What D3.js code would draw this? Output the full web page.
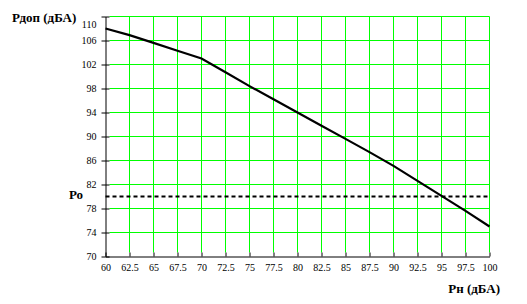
<!DOCTYPE html>
<html>
<head>
<meta charset="utf-8">
<script src="https://cdn.jsdelivr.net/npm/d3@7"></script>
<style>
  body { margin: 0; background: #fff; }
  svg { display: block; }
  .axis text { font-family: "Liberation Serif", serif; font-size: 10px; fill: #000; }
  .axis path, .axis line { stroke: #000; }
  .title { font-family: "Liberation Serif", serif; font-size: 13px; font-weight: bold; fill: #000; }
</style>
</head>
<body>
<script>
// Data
var xValues = [60, 62.5, 65, 67.5, 70, 72.5, 75, 77.5, 80, 82.5, 85, 87.5, 90, 92.5, 95, 97.5, 100];
var pDop    = [108, 106.9, 105.6, 104.3, 103, 100.7, 98.4, 96.2, 94, 91.8, 89.6, 87.4, 85.1, 82.6, 80.1, 77.6, 75];
var pO = 80;
var xTicks = d3.range(60, 100.1, 2.5);
var yTicks = d3.range(70, 110.1, 4);

//Width and height
var w = 527;
var h = 304;

var xScale = d3.scaleLinear().domain([60, 100]).range([105.5, 489.5]);
var yScale = d3.scaleLinear().domain([70, 110]).range([256.5, 16.5]);

var svg = d3.select("body")
    .append("svg")
    .attr("width", w)
    .attr("height", h);

// Grid
svg.append("g").selectAll("line")
    .data(xTicks.slice(1))
    .enter()
    .append("line")
    .attr("x1", function(d) { return xScale(d); })
    .attr("x2", function(d) { return xScale(d); })
    .attr("y1", yScale(110))
    .attr("y2", yScale(70) - 4)
    .attr("stroke", "#00ff00")
    .attr("stroke-width", 1);

svg.append("g").selectAll("line")
    .data(yTicks.slice(1))
    .enter()
    .append("line")
    .attr("x1", xScale(60) + 4)
    .attr("x2", xScale(100))
    .attr("y1", function(d) { return yScale(d); })
    .attr("y2", function(d) { return yScale(d); })
    .attr("stroke", "#00ff00")
    .attr("stroke-width", 1);

// Axes
var xAxis = d3.axisBottom(xScale)
    .tickValues(xTicks)
    .tickSize(-4)
    .tickPadding(7)
    .tickSizeOuter(0)
    .tickFormat(function(d) { return String(d); });

var yAxis = d3.axisLeft(yScale)
    .tickValues(yTicks)
    .tickSize(4)
    .tickPadding(5)
    .tickSizeOuter(0)
    .tickFormat(function(d) { return String(d); });

svg.append("g").attr("class", "axis")
    .attr("transform", "translate(0," + yScale(70) + ")")
    .call(xAxis);

var gy = svg.append("g").attr("class", "axis")
    .attr("transform", "translate(" + xScale(60) + ",0)")
    .call(yAxis);
gy.selectAll(".tick line").attr("x1", 4).attr("x2", -4);
gy.selectAll(".tick").filter(function(d) { return d === 110; })
    .select("text").attr("dy", "1.05em");

svg.selectAll(".axis .domain").attr("stroke-width", 1);

// Po dashed line
svg.append("line")
    .attr("x1", xScale(60))
    .attr("x2", xScale(100))
    .attr("y1", yScale(pO))
    .attr("y2", yScale(pO))
    .attr("stroke", "#000")
    .attr("stroke-width", 2)
    .attr("stroke-dasharray", "4,3");

// Main line
var line = d3.line()
    .x(function(d, i) { return xScale(xValues[i]); })
    .y(function(d) { return yScale(d); });

svg.append("path")
    .datum(pDop)
    .attr("d", line)
    .attr("fill", "none")
    .attr("stroke", "#000")
    .attr("stroke-width", 2.2);

// Labels
svg.append("text").attr("class", "title")
    .attr("x", 12).attr("y", 22)
    .text("Рдоп (дБА)");

svg.append("text").attr("class", "title")
    .attr("x", 69).attr("y", 199)
    .text("Ро");

svg.append("text").attr("class", "title")
    .attr("x", 500).attr("y", 293)
    .attr("text-anchor", "end")
    .text("Рн (дБА)");
</script>
</body>
</html>
